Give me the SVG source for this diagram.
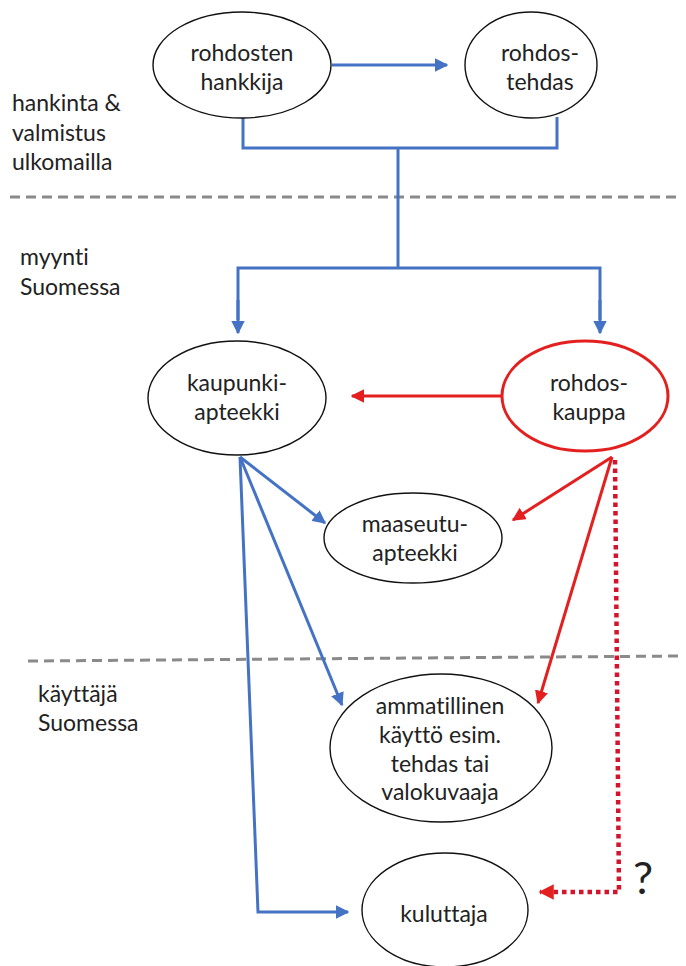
<svg xmlns="http://www.w3.org/2000/svg" width="686" height="966" viewBox="0 0 686 966">
<defs>
<style>
text{font-family:Lato,"Liberation Sans",sans-serif;font-size:23px;fill:#222;font-variant-ligatures:none;}
.n{text-anchor:middle;}
.el{fill:#fff;stroke:#111;stroke-width:1.4;}
.elr{fill:#fff;stroke:#e3201f;stroke-width:3;}
.b{fill:none;stroke:#4472c4;stroke-width:3;}
.r{fill:none;stroke:#e3201f;stroke-width:3;}
.rd{fill:none;stroke:#d3142c;stroke-width:4.5;stroke-dasharray:4.5 4;}
.dash{fill:none;stroke:#8a8a8a;stroke-width:3;stroke-dasharray:10 6;}
</style>
<marker id="ab" viewBox="0 0 10 10" refX="9" refY="5" markerWidth="4.5" markerHeight="4.5" orient="auto" markerUnits="strokeWidth"><path d="M0,0 L10,5 L0,10 z" fill="#4472c4"/></marker>
<marker id="ar" viewBox="0 0 10 10" refX="9" refY="5" markerWidth="4.5" markerHeight="4.5" orient="auto" markerUnits="strokeWidth"><path d="M0,0 L10,5 L0,10 z" fill="#e3201f"/></marker>
<marker id="ard" viewBox="0 0 10 10" refX="9" refY="5" markerWidth="3.4" markerHeight="3.4" orient="auto" markerUnits="strokeWidth"><path d="M0,0 L10,5 L0,10 z" fill="#e3201f"/></marker>
</defs>
<rect width="686" height="966" fill="#fff"/>

<g id="zones">
<line class="dash" x1="10" y1="197" x2="680" y2="197"/>
<line class="dash" x1="28" y1="661" x2="680" y2="656"/>
<text x="12" y="111">hankinta &amp;</text>
<text x="12" y="141">valmistus</text>
<text x="12" y="170">ulkomailla</text>
<text x="20" y="265">myynti</text>
<text x="20" y="295">Suomessa</text>
<text x="38" y="702">käyttäjä</text>
<text x="38" y="731">Suomessa</text>
</g>

<g id="connectors">
<line class="b" x1="332" y1="65" x2="447" y2="65" marker-end="url(#ab)"/>
<polyline class="b" points="243,118 243,148 557,148 557,117"/>
<line class="b" x1="398" y1="148" x2="398" y2="268"/>
<polyline class="b" points="238,320 238,268 600,268 600,320"/>
<line class="b" x1="238" y1="300" x2="238" y2="333" marker-end="url(#ab)"/>
<line class="b" x1="600" y1="300" x2="600" y2="333" marker-end="url(#ab)"/>
<line class="r" x1="502" y1="396" x2="352" y2="396" marker-end="url(#ar)"/>
<line class="b" x1="240" y1="457" x2="325" y2="523" marker-end="url(#ab)"/>
<line class="b" x1="240" y1="457" x2="342" y2="705" marker-end="url(#ab)"/>
<polyline class="b" points="240,457 258,912 348,912" marker-end="url(#ab)"/>
<line class="r" x1="612" y1="457" x2="513" y2="520" marker-end="url(#ar)"/>
<line class="r" x1="612" y1="457" x2="538" y2="703" marker-end="url(#ar)"/>
<polyline class="rd" points="615,460 619,892 540,892" marker-end="url(#ard)"/>
<text x="633" y="894" style="font-size:45px;">?</text>
</g>

<g id="n-hankkija">
<ellipse class="el" cx="242" cy="65" rx="89" ry="53"/>
<text class="n" x="242" y="61">rohdosten</text>
<text class="n" x="242" y="90">hankkija</text>
</g>
<g id="n-tehdas">
<ellipse class="el" cx="531" cy="65" rx="66" ry="53"/>
<text class="n" x="540" y="61">rohdos-</text>
<text class="n" x="540" y="90">tehdas</text>
</g>
<g id="n-kaupunki">
<ellipse class="el" cx="237" cy="398" rx="89" ry="57"/>
<text class="n" x="237" y="391">kaupunki-</text>
<text class="n" x="237" y="420">apteekki</text>
</g>
<g id="n-rohdoskauppa">
<ellipse class="elr" cx="585" cy="396" rx="83" ry="55"/>
<text class="n" x="589" y="391">rohdos-</text>
<text class="n" x="589" y="420">kauppa</text>
</g>
<g id="n-maaseutu">
<ellipse class="el" cx="413" cy="538" rx="89" ry="45"/>
<text class="n" x="415" y="532">maaseutu-</text>
<text class="n" x="415" y="561">apteekki</text>
</g>
<g id="n-ammatillinen">
<ellipse class="el" cx="441" cy="748" rx="111" ry="74"/>
<text class="n" x="440" y="714">ammatillinen</text>
<text class="n" x="440" y="743">käyttö esim.</text>
<text class="n" x="440" y="772">tehdas tai</text>
<text class="n" x="440" y="800">valokuvaaja</text>
</g>
<g id="n-kuluttaja">
<ellipse class="el" cx="445" cy="910" rx="83" ry="57"/>
<text class="n" x="444" y="922">kuluttaja</text>
</g>
</svg>
